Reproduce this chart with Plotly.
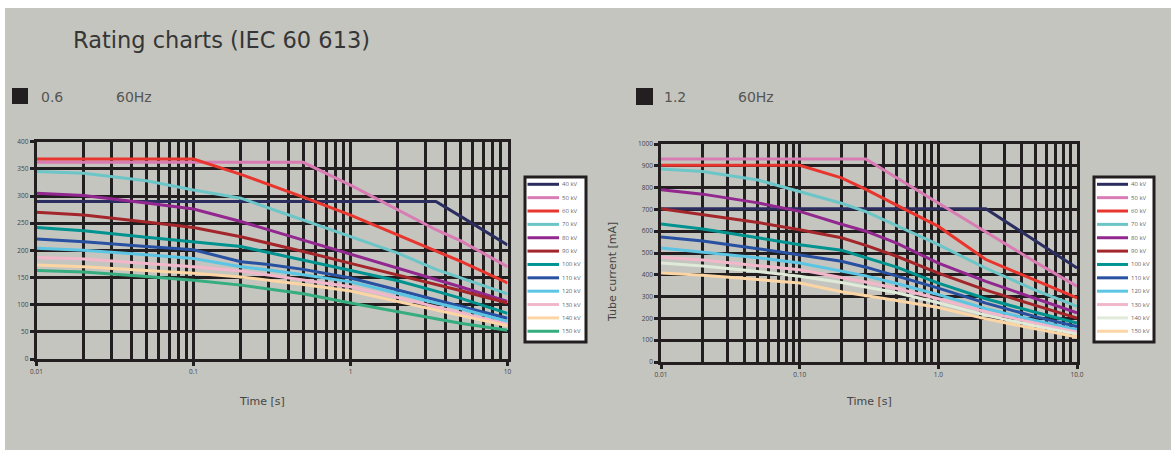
import plotly.graph_objects as go

W, H = 1171, 450

# ---------------- data ----------------
kv_labels = ["40 kV", "50 kV", "60 kV", "70 kV", "80 kV", "90 kV",
             "100 kV", "110 kV", "120 kV", "130 kV", "140 kV", "150 kV"]

left_colors = ["#2b2d5e", "#d97cb4", "#e8352e", "#6cc5c7", "#92278f", "#a3262a",
               "#00938f", "#2951a1", "#5bc5e3", "#f3b7cc", "#fcd5a5", "#35ad7f"]
right_colors = ["#2b2d5e", "#d97cb4", "#e8352e", "#6cc5c7", "#92278f", "#a3262a",
                "#00938f", "#2951a1", "#5bc5e3", "#f3b7cc", "#dfead8", "#fcd5a5"]

# Focal spot 0.6 -- time [s]
left_time = [0.01, 0.02, 0.05, 0.1, 0.2, 0.3, 0.5, 1, 2, 3.5, 5, 10]
left_40 = [290, 290, 290, 290, 290, 290, 290, 290, 290, 290, 263, 210]
left_50 = [362, 362, 362, 362, 362, 362, 362, 320, 274, 238, 218, 170]
left_60 = [368, 368, 368, 368, 340, 322, 298, 265, 228, 198, 180, 140]
left_70 = [345, 342, 328, 311, 296, 278, 256, 225, 195, 165, 150, 120]
left_80 = [305, 301, 287, 276, 253, 238, 219, 193, 167, 146, 133, 106]
left_90 = [270, 265, 252, 242, 225, 213, 198, 176, 155, 137, 126, 103]
left_100 = [242, 236, 224, 216, 207, 196, 182, 164, 144, 125, 112, 84]
left_110 = [221, 216, 207, 201, 179, 174, 165, 149, 127, 108, 97, 75]
left_120 = [204, 200, 192, 185, 170, 164, 155, 142, 121, 103, 93, 69]
left_130 = [187, 184, 176, 170, 162, 155, 146, 133, 113, 96, 86, 64]
left_140 = [173, 170, 163, 158, 151, 145, 137, 125, 106, 90, 81, 61]
left_150 = [163, 160, 152, 145, 136, 129, 120, 103, 87, 73, 66, 53]

# Focal spot 1.2 -- time [s]
right_time = [0.01, 0.02, 0.05, 0.1, 0.2, 0.3, 0.5, 1, 2.2, 5, 10]
right_40 = [703, 703, 703, 703, 703, 703, 703, 703, 703, 556, 431]
right_50 = [931, 931, 931, 931, 931, 931, 845, 729, 595, 459, 347]
right_60 = [902, 902, 902, 902, 845, 792, 720, 622, 470, 376, 294]
right_70 = [885, 874, 835, 783, 728, 690, 625, 538, 430, 330, 255]
right_80 = [790, 770, 730, 691, 632, 600, 545, 454, 370, 290, 225]
right_90 = [703, 676, 640, 607, 570, 535, 485, 408, 330, 260, 202]
right_100 = [633, 610, 570, 538, 513, 480, 435, 362, 290, 228, 179]
right_110 = [573, 555, 520, 492, 462, 435, 395, 339, 270, 208, 163]
right_120 = [523, 505, 478, 454, 418, 395, 360, 309, 245, 190, 148]
right_130 = [480, 468, 442, 423, 388, 367, 337, 290, 230, 178, 138]
right_140 = [454, 440, 415, 393, 365, 345, 318, 272, 215, 165, 128]
right_150 = [408, 398, 378, 362, 322, 305, 282, 250, 198, 152, 115]

left_series = [left_40, left_50, left_60, left_70, left_80, left_90,
               left_100, left_110, left_120, left_130, left_140, left_150]
right_series = [right_40, right_50, right_60, right_70, right_80, right_90,
                right_100, right_110, right_120, right_130, right_140, right_150]

x_tickvals = [0.01, 0.1, 1, 10]
left_x_ticktext = ["0.01", "0.1", "1", "10"]
right_x_ticktext = ["0.01", "0.10", "1.0", "10.0"]
minor_vals = [m * d for d in (0.01, 0.1, 1) for m in range(2, 10)]

# ---------------- layout helpers (page pixel -> paper fraction) ----------------
def px(x):
    return x / W

def py(y):
    return 1 - y / H

BG = "#c4c5bf"
INK = "#231f20"
GRID_W = 2.5
FONT = "DejaVu Sans"

fig = go.Figure()

for name, col, vals in zip(kv_labels, left_colors, left_series):
    fig.add_trace(go.Scatter(x=left_time, y=vals, mode="lines", name=name,
                             line=dict(color=col, width=3),
                             xaxis="x", yaxis="y", showlegend=False))
for name, col, vals in zip(kv_labels, right_colors, right_series):
    fig.add_trace(go.Scatter(x=right_time, y=vals, mode="lines", name=name,
                             line=dict(color=col, width=3),
                             xaxis="x2", yaxis="y2", showlegend=False))

tickfont = dict(family="Open Sans", size=6.5, color="#444444")

def xaxis_cfg(domain, ticktext, anchor):
    return dict(type="log", domain=domain, range=[-2, 1], anchor=anchor,
                tickmode="array", tickvals=x_tickvals, ticktext=ticktext,
                ticks="outside", ticklen=4, tickwidth=GRID_W, tickcolor=INK,
                showgrid=True, gridcolor=INK, gridwidth=GRID_W,
                minor=dict(tickmode="array", tickvals=minor_vals, showgrid=True,
                           gridcolor=INK, gridwidth=GRID_W, ticks=""),
                showline=True, linecolor=INK, linewidth=GRID_W, mirror=True,
                zeroline=False, tickfont=tickfont, fixedrange=True, automargin=False)

def yaxis_cfg(domain, rng, dtick, anchor):
    return dict(domain=domain, range=rng, dtick=dtick, tick0=0, anchor=anchor,
                ticks="outside", ticklen=4, tickwidth=GRID_W, tickcolor=INK,
                showgrid=True, gridcolor=INK, gridwidth=GRID_W,
                showline=True, linecolor=INK, linewidth=GRID_W, mirror=True,
                zeroline=False, tickfont=tickfont, fixedrange=True, automargin=False)

shapes = [
    dict(type="rect", xref="paper", yref="paper", x0=px(5), x1=1, y0=0, y1=py(8),
         fillcolor=BG, line=dict(width=0), layer="below"),
    dict(type="rect", xref="paper", yref="paper", x0=px(12), x1=px(28), y0=py(104), y1=py(88),
         fillcolor=INK, line=dict(width=0)),
    dict(type="rect", xref="paper", yref="paper", x0=px(636), x1=px(653), y0=py(105), y1=py(88),
         fillcolor=INK, line=dict(width=0)),
]

def label(text, x, y, size, color="#555", anchor="left", angle=0):
    return dict(text=text, x=px(x), y=py(y), xref="paper", yref="paper",
                xanchor=anchor, yanchor="middle", showarrow=False, textangle=angle,
                font=dict(family=FONT, size=size, color=color))

annotations = [
    label("Rating charts (IEC 60 613)", 71, 40, 22.5, "#363636"),
    label("0.6", 39, 97, 14),
    label("60Hz", 114, 97, 14),
    label("1.2", 662, 97, 14),
    label("60Hz", 736, 97, 14),
    label("Time [s]", 262, 401, 11, "#444", "center"),
    label("Time [s]", 869, 401, 11, "#444", "center"),
    label("Tube current [mA]", 612, 272, 11, "#444", "center", -90),
]

# manual compact legends
def add_legend(x0, x1, line_x0, line_x1, colors):
    shapes.append(dict(type="rect", xref="paper", yref="paper", x0=px(x0), x1=px(x1),
                       y0=py(342), y1=py(177), fillcolor="white",
                       line=dict(color=INK, width=3)))
    top, step = 184.3, 13.36
    for i, (name, col) in enumerate(zip(kv_labels, colors)):
        yy = top + i * step
        shapes.append(dict(type="line", xref="paper", yref="paper",
                           x0=px(line_x0), x1=px(line_x1), y0=py(yy), y1=py(yy),
                           line=dict(color=col, width=3)))
        annotations.append(dict(text=name, x=px(line_x1 + 1), y=py(yy), xref="paper",
                                yref="paper", xanchor="left", yanchor="middle",
                                showarrow=False,
                                font=dict(family="Open Sans", size=6, color="#666")))

add_legend(525, 586, 527.5, 559, left_colors)
add_legend(1094, 1154, 1097, 1128, right_colors)

fig.update_layout(
    width=W, height=H,
    margin=dict(l=0, r=0, t=0, b=0, pad=0, autoexpand=False),
    paper_bgcolor="white", plot_bgcolor=BG,
    xaxis=xaxis_cfg([px(36.5), px(507.5)], left_x_ticktext, "y"),
    yaxis=yaxis_cfg([py(359), py(141.7)], [0, 400], 50, "x"),
    xaxis2=xaxis_cfg([px(661), px(1077)], right_x_ticktext, "y2"),
    yaxis2=yaxis_cfg([py(362), py(144)], [0, 1000], 100, "x2"),
    shapes=shapes, annotations=annotations, showlegend=False,
)

fig.write_html("out.html", config={"displayModeBar": False},
               post_script="document.body.style.margin='0px';document.body.style.padding='0px';")
